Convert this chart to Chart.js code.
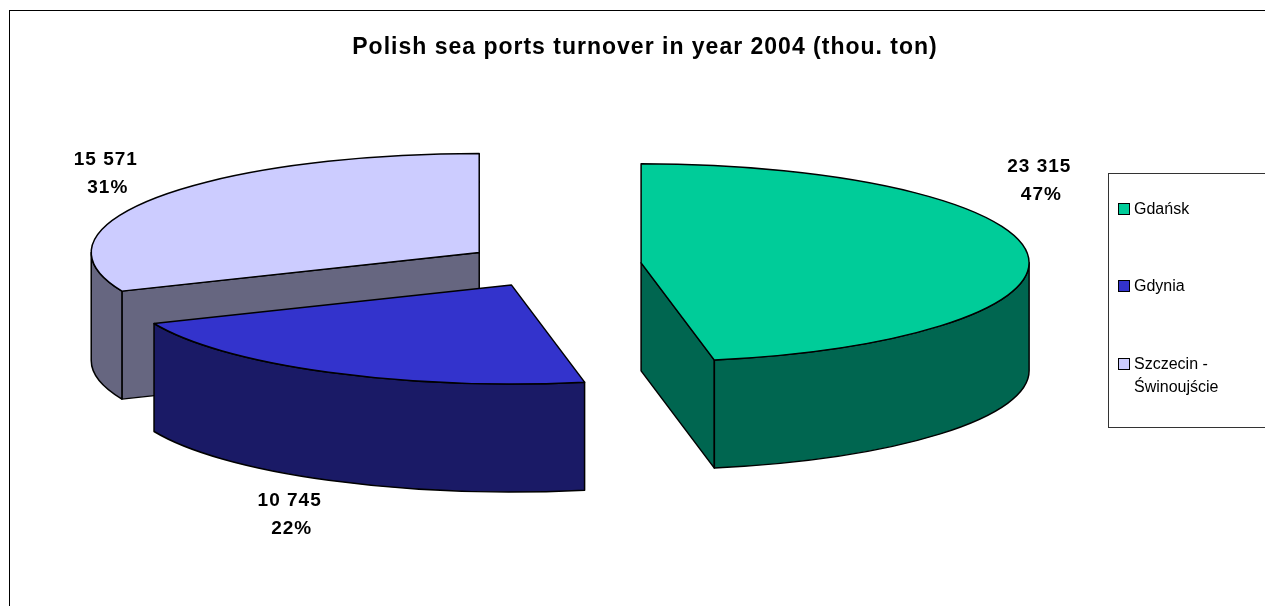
<!DOCTYPE html>
<html>
<head>
<meta charset="utf-8">
<script src="https://cdn.jsdelivr.net/npm/chart.js@4/dist/chart.umd.min.js"></script>
<style>
html, body { margin: 0; padding: 0; background: #fff; }
</style>
</head>
<body>
<canvas id="myChart" width="1265" height="606"></canvas>
<script>
var ports = ['Gdańsk', 'Gdynia', ['Szczecin -', 'Świnoujście']];
var turnover = [23315, 10745, 15571];
var topColors = ['#00CC99', '#3333CC', '#CCCCFF'];
var sideColors = ['#006650', '#1A1A66', '#666680'];

var FONT = 'Arial, "Liberation Sans", sans-serif';

// 3d look: ellipse centre, radii and thickness of the cake
var PIE = { cx: 553, cy: 265, rx: 388, ry: 99, depth: 108 };
// label nudges from the rim point at each slice's middle angle
var labelNudge = [[12, -73], [-39, 143], [-50, -24]];

function fmt(v) {
    return String(v).replace(/\B(?=(\d{3})+(?!\d))/g, ' ');
}

var pie3d = {
    id: 'pie3d',
    beforeDraw: function (chart) {
        // title is a bit wider spaced in the original
        chart.ctx.letterSpacing = '1px';
    },
    beforeDatasetsDraw: function (chart) {
        var ctx = chart.ctx;
        ctx.letterSpacing = '0px';
        var meta = chart.getDatasetMeta(0);
        var k = PIE.ry / PIE.rx;
        var total = turnover.reduce(function (a, b) { return a + b; }, 0);

        var slices = meta.data.map(function (arc, i) {
            var p = arc.getProps(['startAngle', 'endAngle'], true);
            var mid = (p.startAngle + p.endAngle) / 2;
            var off = arc.options.offset;
            return {
                i: i, s: p.startAngle, e: p.endAngle, mid: mid,
                x: PIE.cx + Math.cos(mid) * off,
                y: PIE.cy + Math.sin(mid) * off * k
            };
        });

        function rim(sl, a, down) {
            return [sl.x + Math.cos(a) * PIE.rx, sl.y + Math.sin(a) * PIE.ry + (down ? PIE.depth : 0)];
        }

        function face(sl, a) {
            var t = rim(sl, a, false), b = rim(sl, a, true);
            ctx.beginPath();
            ctx.moveTo(sl.x, sl.y);
            ctx.lineTo(t[0], t[1]);
            ctx.lineTo(b[0], b[1]);
            ctx.lineTo(sl.x, sl.y + PIE.depth);
            ctx.closePath();
            ctx.fill();
            ctx.stroke();
        }

        ctx.save();
        ctx.lineWidth = 1.5;
        ctx.strokeStyle = '#000';
        ctx.lineJoin = 'round';

        slices.slice().sort(function (a, b) { return a.y - b.y; }).forEach(function (sl) {
            ctx.fillStyle = sideColors[sl.i];
            if (Math.cos(sl.s) < -1e-6) face(sl, sl.s);
            if (Math.cos(sl.e) > 1e-6) face(sl, sl.e);
            var a0 = Math.max(sl.s, 0), a1 = Math.min(sl.e, Math.PI);
            if (a1 > a0) {
                ctx.beginPath();
                ctx.ellipse(sl.x, sl.y, PIE.rx, PIE.ry, 0, a0, a1);
                ctx.ellipse(sl.x, sl.y + PIE.depth, PIE.rx, PIE.ry, 0, a1, a0, true);
                ctx.closePath();
                ctx.fill();
                ctx.stroke();
            }
            ctx.fillStyle = topColors[sl.i];
            ctx.beginPath();
            ctx.moveTo(sl.x, sl.y);
            ctx.ellipse(sl.x, sl.y, PIE.rx, PIE.ry, 0, sl.s, sl.e);
            ctx.closePath();
            ctx.fill();
            ctx.stroke();
        });

        // data labels
        ctx.fillStyle = '#000';
        ctx.font = 'bold 19px ' + FONT;
        ctx.letterSpacing = '1px';
        ctx.textAlign = 'center';
        ctx.textBaseline = 'middle';
        slices.forEach(function (sl) {
            var r = rim(sl, sl.mid, false);
            var lx = r[0] + labelNudge[sl.i][0], ly = r[1] + labelNudge[sl.i][1];
            var pct = Math.round(turnover[sl.i] / total * 100) + '%';
            ctx.fillText(fmt(turnover[sl.i]), lx, ly - 14);
            ctx.fillText(pct, lx + 2, ly + 14);
        });
        ctx.restore();
        return false;
    },
    afterDraw: function (chart) {
        var ctx = chart.ctx;
        ctx.save();
        ctx.letterSpacing = '0px';
        // chart frame
        ctx.strokeStyle = '#000';
        ctx.lineWidth = 1;
        ctx.strokeRect(9.5, 10.5, 1400, 800);
        // legend box
        ctx.strokeStyle = '#333';
        ctx.strokeRect(1108.5, 173.5, 300, 254);
        ctx.font = '16px ' + FONT;
        ctx.textBaseline = 'middle';
        ctx.textAlign = 'left';
        var rows = [209, 286, 364];
        chart.data.labels.forEach(function (lab, i) {
            var y = rows[i];
            ctx.fillStyle = topColors[i];
            ctx.fillRect(1118.5, y - 5.5, 11, 11);
            ctx.strokeStyle = '#000';
            ctx.strokeRect(1118.5, y - 5.5, 11, 11);
            ctx.fillStyle = '#000';
            var lines = Array.isArray(lab) ? lab : [lab];
            lines.forEach(function (t, j) {
                ctx.fillText(t, 1134, y + 1 + j * 23);
            });
        });
        ctx.restore();
    }
};

var myChart = new Chart(document.getElementById('myChart'), {
    type: 'pie',
    data: {
        labels: ports,
        datasets: [{
            data: turnover,
            backgroundColor: topColors,
            borderColor: '#000',
            borderWidth: 1,
            offset: 88.5
        }]
    },
    options: {
        responsive: false,
        animation: false,
        events: [],
        layout: { padding: { left: 25 } },
        plugins: {
            legend: { display: false },
            tooltip: { enabled: false },
            title: {
                display: true,
                text: 'Polish sea ports turnover in year 2004 (thou. ton)',
                color: '#000',
                font: { family: FONT, size: 23, weight: 'bold' },
                padding: { top: 34, bottom: 10 }
            }
        }
    },
    plugins: [pie3d]
});
</script>
</body>
</html>
